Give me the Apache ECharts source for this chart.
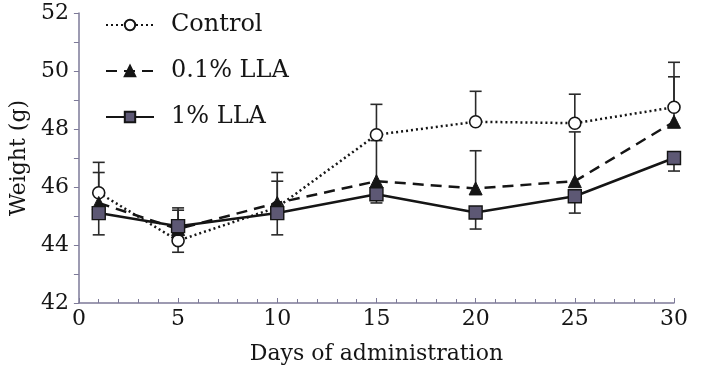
<!DOCTYPE html>
<html>
<head>
<meta charset="utf-8">
<script src="https://cdn.jsdelivr.net/npm/echarts@6/dist/echarts.min.js"></script>
<style>
  html, body { margin: 0; padding: 0; background: #fff; }
  #chart { width: 720px; height: 388px; }
</style>
</head>
<body>
<div id="chart"></div>
<script>
const days = [1, 5, 10, 15, 20, 25, 30];
const control = [45.8, 44.15, 45.3, 47.8, 48.25, 48.2, 48.75];
const lla01 = [45.45, 44.55, 45.45, 46.2, 45.95, 46.2, 48.25];
const lla1 = [45.1, 44.65, 45.1, 45.75, 45.12, 45.68, 47.0];
// error bar end points (one side only, as in the figure)
const controlErr = [46.85, 43.75, 46.5, 48.85, 49.3, 49.2, 50.3];
const lla01Err = [46.5, 45.2, 46.2, 47.6, 47.25, 47.9, 49.8];
const lla1Err = [44.35, 45.28, 44.35, 45.45, 44.55, 45.1, 46.55];

const chart = echarts.init(document.getElementById("chart"));

const font = "DejaVu Serif";
const axisColor = "#7d7a98";
const ink = "#151515";

function pairs(vals) {
	return days.map((d, i) => [d, vals[i]]);
}
function errData(vals, ends) {
	return days.map((d, i) => [d, vals[i], ends[i]]);
}
function errSeries(vals, ends) {
	return {
		type: "custom",
		silent: true,
		z: 1,
		encode: { x: 0, y: [1, 2] },
		data: errData(vals, ends),
		renderItem: function (params, api) {
			const a = api.coord([api.value(0), api.value(1)]);
			const b = api.coord([api.value(0), api.value(2)]);
			const style = { stroke: "#2a2a2a", lineWidth: 1.6 };
			return {
				type: "group",
				children: [
					{ type: "line", shape: { x1: a[0], y1: a[1], x2: b[0], y2: b[1] }, style: style },
					{ type: "line", shape: { x1: b[0] - 6, y1: b[1], x2: b[0] + 6, y2: b[1] }, style: style }
				]
			};
		}
	};
}

const option = {
	animation: false,
	grid: { left: 73, right: 46, top: 13, bottom: 85 },
	legend: {
		orient: "vertical",
		left: 100,
		top: 7,
		itemWidth: 48,
		itemHeight: 13,
		itemGap: 20,
		data: ["Control", "0.1% LLA", "1% LLA"],
		textStyle: { fontFamily: font, fontSize: 24, color: ink, lineHeight: 26, padding: [0, 0, 0, 12] }
	},
	xAxis: {
		type: "value",
		min: 0,
		max: 30,
		interval: 5,
		name: "Days of administration",
		nameLocation: "middle",
		nameGap: 40,
		nameTextStyle: { fontFamily: font, fontSize: 22, color: ink },
		axisLine: { lineStyle: { color: axisColor, width: 1.5 } },
		axisTick: { inside: true, length: 5, lineStyle: { color: axisColor } },
		minorTick: { show: true, splitNumber: 5, length: 4, lineStyle: { color: axisColor } },
		axisLabel: { fontFamily: font, fontSize: 22, color: ink, margin: 5 },
		splitLine: { show: false }
	},
	yAxis: {
		type: "value",
		min: 42,
		max: 52,
		interval: 2,
		name: "Weight (g)",
		nameLocation: "middle",
		nameGap: 46,
		nameTextStyle: { fontFamily: font, fontSize: 22, color: ink },
		axisLine: { show: true, lineStyle: { color: axisColor, width: 1.5 } },
		axisTick: { show: true, inside: false, length: 5, lineStyle: { color: axisColor } },
		minorTick: { show: true, splitNumber: 2, length: 5, lineStyle: { color: axisColor } },
		axisLabel: { fontFamily: font, fontSize: 22, color: ink, margin: 10 },
		splitLine: { show: false }
	},
	series: [
		errSeries(control, controlErr),
		errSeries(lla01, lla01Err),
		errSeries(lla1, lla1Err),
		{
			name: "Control",
			type: "line",
			z: 2,
			data: pairs(control),
			symbol: "circle",
			symbolSize: 12,
			lineStyle: { color: ink, width: 2.5, type: [2, 3] },
			itemStyle: { color: "#fff", borderColor: ink, borderWidth: 1.6 }
		},
		{
			name: "0.1% LLA",
			type: "line",
			z: 3,
			data: pairs(lla01),
			symbol: "triangle",
			symbolSize: 13,
			lineStyle: { color: ink, width: 2.5, type: [11, 7] },
			itemStyle: { color: ink, borderColor: ink, borderWidth: 1 }
		},
		{
			name: "1% LLA",
			type: "line",
			z: 4,
			data: pairs(lla1),
			symbol: "rect",
			symbolSize: 13,
			lineStyle: { color: ink, width: 2.5 },
			itemStyle: { color: "#5d5874", borderColor: ink, borderWidth: 1.4 }
		}
	]
};

chart.setOption(option);
window.onresize = chart.resize;
</script>
</body>
</html>
